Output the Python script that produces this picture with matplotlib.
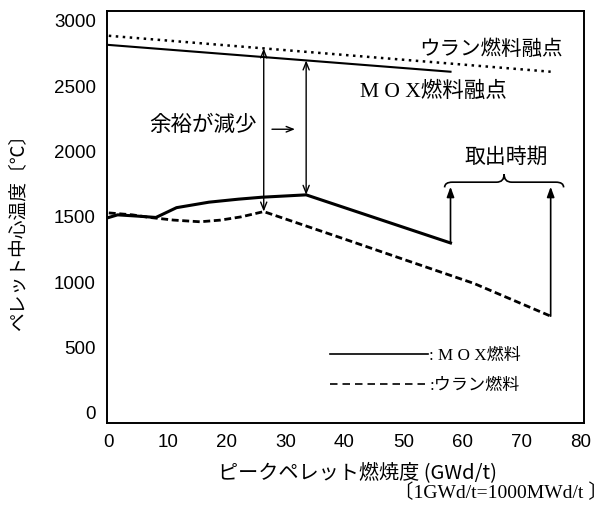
import matplotlib
matplotlib.use('Agg')
import matplotlib.pyplot as plt
import numpy as np
from matplotlib.lines import Line2D
from matplotlib.path import Path
from matplotlib.patches import PathPatch

# ---------------- data ----------------
mox_burnup = [0, 1.5, 5, 8, 11.5, 17, 22, 26, 33.5, 58]
mox_temp = [1495, 1515, 1505, 1495, 1570, 1612, 1635, 1650, 1668, 1300]
u_burnup = [0, 4, 7, 11, 15.5, 19, 22.5, 26.3, 40, 50, 62, 75]
u_temp = [1530, 1515, 1495, 1475, 1462, 1475, 1500, 1540, 1330, 1175, 990, 740]
mox_melt_burnup = [0, 58]
mox_melt_temp = [2815, 2610]
u_melt_burnup = [0, 75]
u_melt_temp = [2885, 2610]

xticks = [0, 10, 20, 30, 40, 50, 60, 70, 80]
yticks = [0, 500, 1000, 1500, 2000, 2500, 3000]

# annotation anchors (data units)
u_margin_x = 26.3
mox_margin_x = 33.5
discharge_arrow_top = 1730
brace_x0, brace_x1, brace_y = 57.0, 77.2, 1765

JP = ['Noto Sans CJK JP', 'DejaVu Sans']
SERIFJP = ['Liberation Serif', 'Noto Sans CJK JP', 'DejaVu Sans']
NUM = ['Liberation Sans Narrow', 'Liberation Sans', 'DejaVu Sans']

fig = plt.figure(figsize=(6.15, 5.15), dpi=100)
ax = fig.add_axes([0.174, 0.179, 0.776, 0.800])

# melting point lines
ax.plot(u_melt_burnup, u_melt_temp, color='black', lw=1.8, linestyle=(0, (1, 1.8)))
ax.plot(mox_melt_burnup, mox_melt_temp, color='black', lw=1.5)

# centre temperatures
ax.plot(mox_burnup, mox_temp, color='black', lw=2.2)
ax.plot(u_burnup, u_temp, color='black', lw=2.0, linestyle=(0, (2.5, 1.3)))

# margin double arrows
u_lo = np.interp(u_margin_x, u_burnup, u_temp)
u_hi = np.interp(u_margin_x, u_melt_burnup, u_melt_temp)
m_lo = np.interp(mox_margin_x, mox_burnup, mox_temp)
m_hi = np.interp(mox_margin_x, mox_melt_burnup, mox_melt_temp)
dbl = dict(arrowstyle='<->,head_length=0.55,head_width=0.22', color='black', lw=1.0,
           shrinkA=0, shrinkB=0)
ax.annotate('', xy=(u_margin_x, u_hi), xytext=(u_margin_x, u_lo), arrowprops=dbl)
ax.annotate('', xy=(mox_margin_x, m_hi), xytext=(mox_margin_x, m_lo), arrowprops=dbl)

ax.text(16.0, 2200, '余裕が減少', family=JP, fontsize=15.5, ha='center', va='center')
ax.annotate('', xy=(31.6, 2170), xytext=(27.7, 2170),
            arrowprops=dict(arrowstyle='->,head_length=0.5,head_width=0.2', color='black',
                            lw=1.0, shrinkA=0, shrinkB=0))

# discharge arrows
up = dict(arrowstyle='-|>,head_length=0.6,head_width=0.22', color='black', lw=1.2,
          shrinkA=0, shrinkB=0)
ax.annotate('', xy=(mox_burnup[-1], discharge_arrow_top), xytext=(mox_burnup[-1], mox_temp[-1]),
            arrowprops=up)
ax.annotate('', xy=(u_burnup[-1], discharge_arrow_top), xytext=(u_burnup[-1], u_temp[-1]),
            arrowprops=up)

# brace
w = 1.3
d_end = 40
d_mid = 60
xm = (brace_x0 + brace_x1) / 2
verts = [(brace_x0, brace_y - d_end), (brace_x0, brace_y), (brace_x0 + w, brace_y),
         (xm - w, brace_y), (xm, brace_y), (xm, brace_y + d_mid),
         (xm, brace_y), (xm + w, brace_y),
         (brace_x1 - w, brace_y), (brace_x1, brace_y), (brace_x1, brace_y - d_end)]
codes = [Path.MOVETO, Path.CURVE3, Path.CURVE3,
         Path.LINETO, Path.CURVE3, Path.CURVE3,
         Path.CURVE3, Path.CURVE3,
         Path.LINETO, Path.CURVE3, Path.CURVE3]
ax.add_patch(PathPatch(Path(verts, codes), facecolor='none', edgecolor='black', lw=1.2))
ax.text(67.4, 1960, '取出時期', family=JP, fontsize=15, ha='center', va='center')

# line labels
ax.text(77.0, 2785, 'ウラン燃料融点', family=JP, fontsize=14.8, ha='right', va='center')
ax.text(42.6, 2455, 'M O X燃料融点', family=SERIFJP, fontsize=15.5, ha='left', va='center')

# legend
handles = [Line2D([], [], color='black', lw=1.2),
           Line2D([], [], color='black', lw=1.2, linestyle=(0, (4.5, 3)))]
leg = ax.legend(handles, [': M O X燃料', ':ウラン燃料'], loc='upper left',
                bbox_to_anchor=(0.468, 0.182), frameon=False, handlelength=5.7,
                handletextpad=0.1, borderpad=0, borderaxespad=0, labelspacing=0.85,
                prop={'family': SERIFJP, 'size': 12.3})

ax.set_xlim(-0.3, 80.7)
ax.set_ylim(-76, 3076)
ax.set_xticks(xticks)
ax.set_yticks(yticks)
ax.tick_params(length=0, pad=8)
for lab in ax.get_xticklabels() + ax.get_yticklabels():
    lab.set_family(NUM)
    lab.set_fontsize(13.5)
for s in ax.spines.values():
    s.set_linewidth(1.4)

ax.set_ylabel('ペレット中心温度〔℃〕', family=JP, fontsize=13.5)
ax.yaxis.set_label_coords(-0.163, 0.473)
ax.set_xlabel('ピークペレット燃焼度 (GWd/t)', family=JP, fontsize=14.5)
ax.xaxis.set_label_coords(0.524, -0.095)
fig.text(0.988, 0.043, '〔1GWd/t=1000MWd/t 〕', family=['Liberation Serif', 'Noto Sans CJK JP'],
         fontsize=14, ha='right', va='center')

fig.savefig('out.png', dpi=100)
